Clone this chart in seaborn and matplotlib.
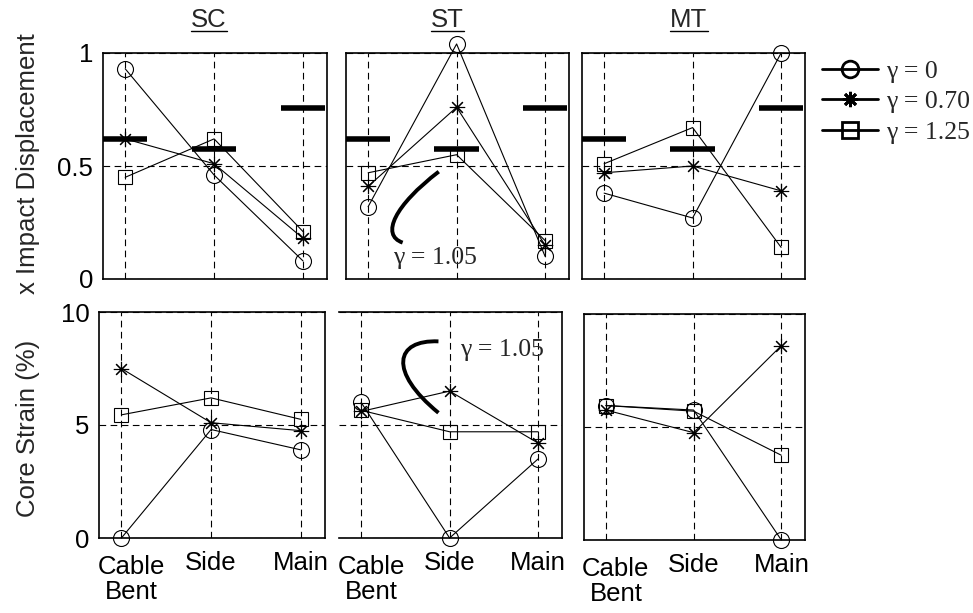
import matplotlib.pyplot as plt
import seaborn as sns
import pandas as pd
from matplotlib.lines import Line2D
from matplotlib.path import Path
from matplotlib.patches import PathPatch
from matplotlib.transforms import ScaledTranslation

###############################################################################
# Data (order of every list: Cable Bent, Side, Main)
###############################################################################

categories = ["Cable\nBent", "Side", "Main"]
panels = ["SC", "ST", "MT"]
gamma_labels = ["γ = 0", "γ = 0.70", "γ = 1.25"]

# normalised impact displacement
disp_sc_g0 = [0.93, 0.46, 0.08]
disp_sc_g070 = [0.62, 0.51, 0.18]
disp_sc_g125 = [0.45, 0.62, 0.21]
disp_st_g0 = [0.32, 1.04, 0.10]
disp_st_g070 = [0.41, 0.76, 0.15]
disp_st_g125 = [0.47, 0.55, 0.17]
disp_mt_g0 = [0.38, 0.27, 1.00]
disp_mt_g070 = [0.47, 0.50, 0.39]
disp_mt_g125 = [0.51, 0.67, 0.14]

# reference level (gamma = 1.05), drawn as thick bars
disp_ref = [0.62, 0.575, 0.755]

# core strain (%)
strain_sc_g0 = [0.0, 4.8, 3.9]
strain_sc_g070 = [7.5, 5.1, 4.75]
strain_sc_g125 = [5.45, 6.2, 5.25]
strain_st_g0 = [6.0, 0.0, 3.5]
strain_st_g070 = [5.6, 6.5, 4.2]
strain_st_g125 = [5.65, 4.7, 4.7]
strain_mt_g0 = [5.95, 5.75, 0.0]
strain_mt_g070 = [5.75, 4.75, 8.6]
strain_mt_g125 = [5.95, 5.7, 3.75]

disp = {
    "SC": [disp_sc_g0, disp_sc_g070, disp_sc_g125],
    "ST": [disp_st_g0, disp_st_g070, disp_st_g125],
    "MT": [disp_mt_g0, disp_mt_g070, disp_mt_g125],
}
strain = {
    "SC": [strain_sc_g0, strain_sc_g070, strain_sc_g125],
    "ST": [strain_st_g0, strain_st_g070, strain_st_g125],
    "MT": [strain_mt_g0, strain_mt_g070, strain_mt_g125],
}

rows = []
for measure, table in [("disp", disp), ("strain", strain)]:
    for panel in panels:
        for gamma, values in zip(gamma_labels, table[panel]):
            for pos, value in enumerate(values):
                rows.append({"measure": measure, "panel": panel, "gamma": gamma,
                             "pos": pos, "value": value})
df = pd.DataFrame(rows)

###############################################################################
# Plot
###############################################################################

sns.set_style("white")
plt.rcParams['font.family'] = ['Liberation Sans', 'DejaVu Sans']
serif = ['Liberation Serif', 'DejaVu Serif']
FS = 18.5

W, H = 973, 613
fig = plt.figure(figsize=(W / 100, H / 100), dpi=100)


def add_axes_px(left, top, right, bottom):
    return fig.add_axes([left / W, 1 - bottom / H, (right - left) / W, (bottom - top) / H])


axes_top = [add_axes_px(103, 53, 327, 279), add_axes_px(346, 53, 569, 279),
            add_axes_px(582, 53, 805, 279)]
axes_bot = [add_axes_px(99, 312, 325, 538), add_axes_px(339, 312, 562, 538),
            add_axes_px(584, 314, 805, 540)]

markers = ['o', (8, 2, 0), 's']
msizes = [11.5, 11, 10.5]
dash = (0, (6, 4))

for row, (measure, axes) in enumerate([("disp", axes_top), ("strain", axes_bot)]):
    for col, (panel, ax) in enumerate(zip(panels, axes)):
        for gamma, m, ms in zip(gamma_labels, markers, msizes):
            sub = df[(df.measure == measure) & (df.panel == panel) & (df.gamma == gamma)]
            sns.lineplot(data=sub, x="pos", y="value", ax=ax, color="k", lw=0.8,
                         marker=m, ms=ms, mfc="none", mec="k", mew=0.8,
                         clip_on=False, legend=False, sort=False, errorbar=None,
                         zorder=3)
        if measure == "disp":
            ax.hlines(disp_ref, [p - 0.25 for p in range(3)], [p + 0.25 for p in range(3)],
                      color="k", lw=4, zorder=2)
            ax.set_ylim(0, 1)
            ax.set_yticks([0, 0.5, 1])
            ax.set_yticklabels(["0", "0.5", "1"])
        else:
            ax.set_ylim(0, 10)
            ax.set_yticks([0, 5, 10])
        ax.set_xlim(-0.25, 2.27)
        ax.set_xticks(range(3))
        ax.set_xticklabels(categories, linespacing=1.05)
        ax.grid(True, color="k", lw=0.8, ls=dash)
        ax.set_xlabel("")
        ax.set_ylabel("")
        ax.tick_params(length=0, labelsize=FS, pad=7, colors="k")
        ax.tick_params(axis="x", pad=9)
        for s in ax.spines.values():
            s.set_color("k")
            s.set_linewidth(1.2)
        if col > 0:
            ax.tick_params(labelleft=False)
        if row == 0:
            ax.tick_params(labelbottom=False)
        else:
            lab = ax.get_xticklabels()[0]
            lab.set_transform(lab.get_transform() + ScaledTranslation(0.1, -0.05, fig.dpi_scale_trans))

axes_bot[1].spines["left"].set_visible(False)

# gamma = 1.05 call-outs
for ax, verts, txt_xy in [
    (axes_top[1], [(0.416, 0.475), (0.220, 0.327), (0.153, 0.195), (0.254, 0.161)], (0.21, 0.093)),
    (axes_bot[1], [(0.446, 0.870), (0.251, 0.878), (0.220, 0.737), (0.446, 0.554)], (0.543, 0.833)),
]:
    path = Path(verts, [Path.MOVETO, Path.CURVE4, Path.CURVE4, Path.CURVE4])
    ax.add_patch(PathPatch(path, fill=False, lw=2.8, color="k", transform=ax.transAxes,
                           capstyle="butt", zorder=4))
    ax.text(*txt_xy, "γ = 1.05", transform=ax.transAxes, ha="left", va="center",
            fontsize=FS, family=serif)

# axis labels
fig.text(28 / W, 1 - 164 / H, "x Impact Displacement", rotation=90, ha="center",
         va="center", fontsize=FS)
fig.text(28 / W, 1 - 428 / H, "Core Strain (%)", rotation=90, ha="center",
         va="center", fontsize=FS)

# underlined panel titles
titles = []
for panel, xc in zip(panels, [209, 447.5, 689]):
    titles.append(fig.text(xc / W, 1 - 27 / H, panel, ha="center", va="baseline", fontsize=FS))
fig.canvas.draw()
renderer = fig.canvas.get_renderer()
for t in titles:
    bb = t.get_window_extent(renderer)
    fig.add_artist(Line2D([bb.x0 / W, bb.x1 / W], [1 - 30.7 / H, 1 - 30.7 / H],
                          color="k", lw=1.0, transform=fig.transFigure))

# legend
handles = [Line2D([], [], color="k", lw=2, marker=m, ms=s, mfc="none", mec="k", mew=2)
           for m, s in zip(markers, [12, 11, 11])]
fig.legend(handles, gamma_labels, loc="center left", bbox_to_anchor=(822 / W, 1 - 102 / H),
           frameon=False, prop={"family": serif, "size": FS}, handlelength=2.18,
           handletextpad=0.3, labelspacing=0.3, borderpad=0, borderaxespad=0)

fig.savefig("out.png", dpi=100)
